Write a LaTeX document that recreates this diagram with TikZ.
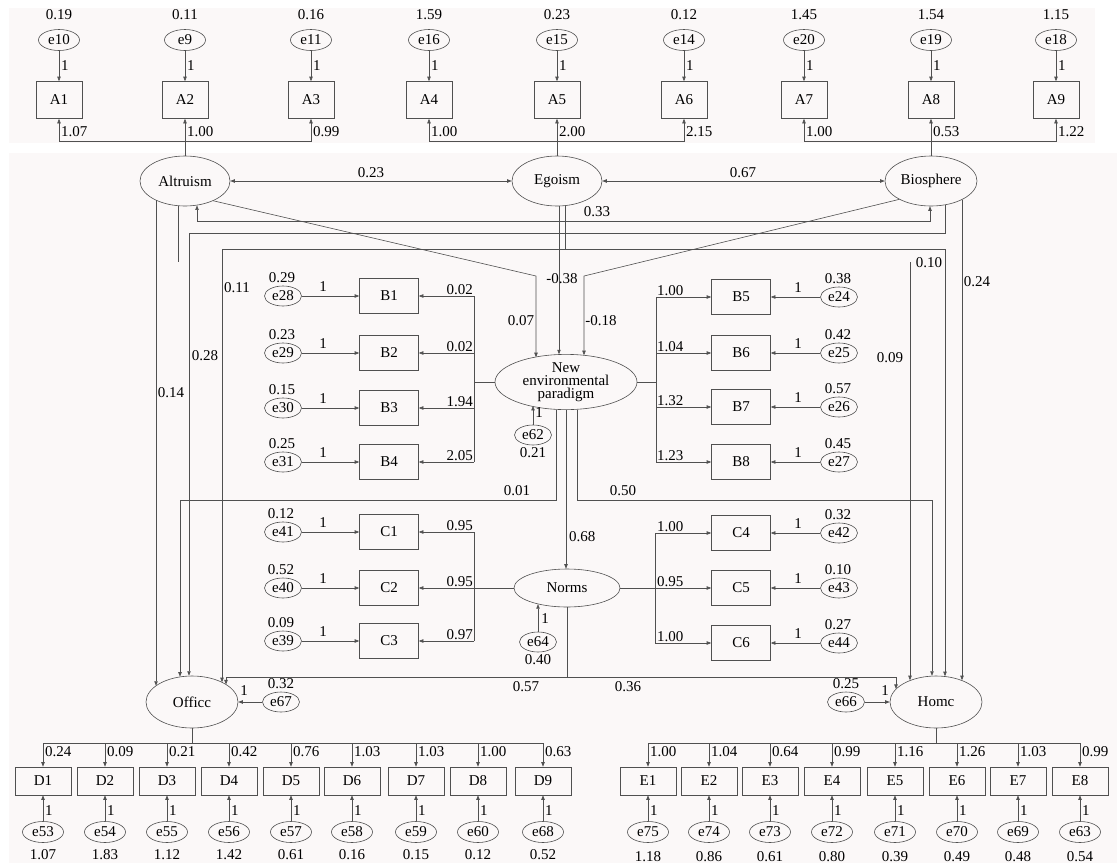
\documentclass[tikz,border=0pt]{standalone}
\usepackage{fontspec}
\setmainfont{Liberation Serif}
\usetikzlibrary{arrows.meta,shapes.geometric}
\definecolor{lc}{HTML}{505050}
\definecolor{bgp}{HTML}{FBF8F8}
\begin{document}
\begin{tikzpicture}[x=1pt,y=-1pt,font=\fontsize{15}{13}\selectfont,
 ln/.style={draw=lc,line width=0.6pt},
 arr/.style={ln,-{Triangle[length=4.5pt,width=3.4pt]}},
 dbl/.style={ln,{Triangle[length=4.5pt,width=3.4pt]}-{Triangle[length=4.5pt,width=3.4pt]}},
 lat/.style={draw=lc,line width=0.6pt,ellipse,inner sep=0pt,minimum width=90pt,minimum height=50pt},
 errT/.style={draw=lc,line width=0.6pt,ellipse,inner sep=0pt,minimum width=41pt,minimum height=21pt},
 errM/.style={draw=lc,line width=0.6pt,ellipse,inner sep=0pt,minimum width=37pt,minimum height=20pt},
 boxA/.style={draw=lc,line width=0.6pt,inner sep=0pt,minimum width=46pt,minimum height=37pt},
 boxB/.style={draw=lc,line width=0.6pt,inner sep=0pt,minimum width=59pt,minimum height=35pt},
 boxD/.style={draw=lc,line width=0.6pt,inner sep=0pt,minimum width=56pt,minimum height=28pt},
 lab/.style={inner sep=0pt}]
\useasboundingbox (0,0) rectangle (1117,863);
\fill[white] (0,0) rectangle (1117,863);
\fill[bgp] (9,8) rectangle (1095,143);
\fill[bgp] (9,153) rectangle (1117,863);

% ---------- latent variables
\node[lat] (Altruism) at (185,181) {Altruism};
\node[lat] (Egoism) at (557,181) {Egoism};
\node[lat,minimum width=92pt] (Biosphere) at (931,181) {Biosphere};
\node[lat,minimum width=142pt,minimum height=49pt,align=center] (NEP) at (566,382) {New\\environmental\\paradigm};
\node[lat,minimum width=106pt,minimum height=38pt] (Norms) at (567,588) {Norms};
\node[lat,minimum width=92pt,minimum height=52pt] (Officc) at (192,702) {Officc};
\node[lat,minimum width=92pt,minimum height=52pt] (Homc) at (936,702) {Homc};

% ---------- top indicators
\foreach \xx/\vv/\ee/\ww [count=\i] in {59/0.19/e10/1.07,185/0.11/e9/1.00,311/0.16/e11/0.99,429/1.59/e16/1.00,557/0.23/e15/2.00,684/0.12/e14/2.15,804/1.45/e20/1.00,931/1.54/e19/0.53,1056/1.15/e18/1.22}{
 \node[boxA] (A\i) at (\xx,100) {A\i};
 \node[errT] (\ee) at (\xx,40) {\ee};
 \node[lab] (vA\i) at (\xx,15) {\vv};
 \node[lab,anchor=west] (oA\i) at (\xx+2,66) {1};
 \node[lab,anchor=west] (wA\i) at (\xx+2,132) {\ww};
 \draw[arr] (\ee) -- (A\i);
}
\draw[arr] (Altruism.north) -- (A2.south);
\draw[arr] (Altruism.north |- 0,141) -| (A1.south);
\draw[arr] (Altruism.north |- 0,141) -| (A3.south);
\draw[arr] (Egoism.north) -- (A5.south);
\draw[arr] (Egoism.north |- 0,141) -| (A4.south);
\draw[arr] (Egoism.north |- 0,141) -| (A6.south);
\draw[arr] (Biosphere.north) -- (A8.south);
\draw[arr] (Biosphere.north |- 0,141) -| (A7.south);
\draw[arr] (Biosphere.north |- 0,141) -| (A9.south);

% ---------- covariances
\draw[dbl] (Altruism.east) -- (Egoism.west);
\draw[dbl] (Egoism.east) -- (Biosphere.west);
\draw[dbl] (197,0 |- Altruism.296) |- (930,221) -- (930,0 |- Biosphere.268);
\node[lab] (c1) at (371,173) {0.23};
\node[lab] (c2) at (743,173) {0.67};
\node[lab] (c3) at (597,212) {0.33};

% ---------- structural paths
% Altruism
\draw[arr] (156,0 |- Altruism.213) -- (156,0 |- Officc.156);
\draw[ln] (178,0 |- Altruism.254) -- (178,262);
\draw[arr] (Altruism.325) -- (536,276) -- (536,0 |- NEP.143);
\draw[arr] (910,262) -- (910,0 |- Homc.140);
% Egoism
\draw[arr] (559,0 |- Egoism.275) -- (559,0 |- NEP.106);
\draw[ln] (565,0 |- Egoism.288) -- (565,249);
\draw[arr] (565,249) -| (222,0 |- Officc.33);
\draw[arr] (565,249) -| (945,0 |- Homc.71);
% Biosphere
\draw[arr] (945,0 |- Biosphere.300) |- (189,233) -- (189,0 |- Officc.97);
\draw[arr] (962,0 |- Biosphere.329) -- (962,0 |- Homc.40);
\draw[arr] (Biosphere.210) -- (584,276) -- (584,0 |- NEP.53);
% NEP
\draw[arr] (NEP.south) -- (NEP.south |- Norms.north);
\draw[arr] (556,0 |- NEP.248) |- (180,500) -- (180,0 |- Officc.116);
\draw[arr] (577,0 |- NEP.294) |- (932,500) -- (932,0 |- Homc.99);
% Norms
\draw[ln] (Norms.south) -- (Norms.south |- 0,677);
\draw[arr] (Norms.south |- 0,677) -| (226,0 |- Officc.27);
\draw[arr] (Norms.south |- 0,677) -| (896,0 |- Homc.162);

\node[lab] (p1) at (171,393) {0.14};
\node[lab] (p2) at (205,356) {0.28};
\node[lab] (p3) at (237,288) {0.11};
\node[lab] (p4) at (521,321) {0.07};
\node[lab] (p5) at (562,279) {-0.38};
\node[lab] (p6) at (601,321) {-0.18};
\node[lab] (p7) at (929,263) {0.10};
\node[lab] (p8) at (977,282) {0.24};
\node[lab] (p9) at (890,358) {0.09};
\node[lab] (p10) at (517,491) {0.01};
\node[lab] (p11) at (623,491) {0.50};
\node[lab,anchor=west] (p12) at (569,537) {0.68};
\node[lab] (p13) at (526,687) {0.57};
\node[lab] (p14) at (628,687) {0.36};

% ---------- NEP indicators
\draw[ln] (NEP.west) -- (474,0 |- NEP.west);
\draw[ln] (474,296) -- (474,462);
\foreach \n/\yy/\ee/\vv/\ww in {1/296/e28/0.29/0.02,2/353/e29/0.23/0.02,3/408/e30/0.15/1.94,4/462/e31/0.25/2.05}{
 \node[boxB] (B\n) at (389,\yy) {B\n};
 \node[errM] (\ee) at (283,\yy) {\ee};
 \node[lab] (vB\n) at (282,\yy-18) {\vv};
 \node[lab] (oB\n) at (323,\yy-9) {1};
 \node[lab,anchor=south east] (wB\n) at (473,\yy-1) {\ww};
 \draw[arr] (\ee) -- (B\n);
 \draw[arr] (474,0 |- B\n.east) -- (B\n.east);
}
\draw[ln] (NEP.east) -- (656,0 |- NEP.east);
\draw[ln] (656,297) -- (656,462);
\foreach \n/\yy/\ee/\vv/\ww in {5/297/e24/0.38/1.00,6/353/e25/0.42/1.04,7/407/e26/0.57/1.32,8/462/e27/0.45/1.23}{
 \node[boxB] (B\n) at (741,\yy) {B\n};
 \node[errM] (\ee) at (839,\yy) {\ee};
 \node[lab] (vB\n) at (838,\yy-18) {\vv};
 \node[lab] (oB\n) at (798,\yy-9) {1};
 \node[lab,anchor=south west] (wB\n) at (657,\yy-1) {\ww};
 \draw[arr] (\ee) -- (B\n);
 \draw[arr] (656,0 |- B\n.west) -- (B\n.west);
}
\node[errM] (e62) at (533,435) {e62};
\node[lab] (o62) at (539,413) {1};
\node[lab] (v62) at (533,453) {0.21};
\draw[arr] (e62.north) -- (e62.north |- NEP.213);

% ---------- Norms indicators
\draw[ln] (Norms.west) -- (474,0 |- Norms.west);
\draw[ln] (474,532) -- (474,641);
\foreach \n/\yy/\ee/\vv/\ww in {1/532/e41/0.12/0.95,2/588/e40/0.52/0.95,3/641/e39/0.09/0.97}{
 \node[boxB] (C\n) at (389,\yy) {C\n};
 \node[errM] (\ee) at (283,\yy) {\ee};
 \node[lab] (vC\n) at (281,\yy-18) {\vv};
 \node[lab] (oC\n) at (323,\yy-9) {1};
 \node[lab,anchor=south east] (wC\n) at (473,\yy-1) {\ww};
 \draw[arr] (\ee) -- (C\n);
 \draw[arr] (474,0 |- C\n.east) -- (C\n.east);
}
\draw[ln] (Norms.east) -- (655,0 |- Norms.east);
\draw[ln] (655,533) -- (655,643);
\foreach \n/\yy/\ee/\vv/\ww in {4/533/e42/0.32/1.00,5/588/e43/0.10/0.95,6/643/e44/0.27/1.00}{
 \node[boxB] (C\n) at (741,\yy) {C\n};
 \node[errM] (\ee) at (839,\yy) {\ee};
 \node[lab] (vC\n) at (838,\yy-18) {\vv};
 \node[lab] (oC\n) at (798,\yy-9) {1};
 \node[lab,anchor=south west] (wC\n) at (657,\yy-1) {\ww};
 \draw[arr] (\ee) -- (C\n);
 \draw[arr] (655,0 |- C\n.west) -- (C\n.west);
}
\node[errM] (e64) at (538,642) {e64};
\node[lab] (o64) at (545,619) {1};
\node[lab] (v64) at (538,660) {0.40};
\draw[arr] (e64.north) -- (e64.north |- Norms.209);

% ---------- disturbances
\node[errM] (e67) at (281,702) {e67};
\node[lab] (v67) at (281,684) {0.32};
\node[lab] (o67) at (244,691) {1};
\draw[arr] (e67) -- (Officc.east);
\node[errM] (e66) at (846,702) {e66};
\node[lab] (v66) at (846,684) {0.25};
\node[lab] (o66) at (885,691) {1};
\draw[arr] (e66) -- (Homc.west);

% ---------- D indicators
\draw[ln] (Officc.south) -- (Officc.south |- 0,743);
\draw[ln] (43,743) -- (543,743);
\foreach \xx/\ww/\ee/\vv [count=\i] in {43/0.24/e53/1.07,105/0.09/e54/1.83,167/0.21/e55/1.12,229/0.42/e56/1.42,291/0.76/e57/0.61,352/1.03/e58/0.16,416/1.03/e59/0.15,478/1.00/e60/0.12,543/0.63/e68/0.52}{
 \node[boxD] (D\i) at (\xx,781) {D\i};
 \node[errT] (\ee) at (\xx,832) {\ee};
 \node[lab] (vD\i) at (\xx,855) {\vv};
 \node[lab,anchor=west] (oD\i) at (\xx+2,811) {1};
 \node[lab,anchor=west] (wD\i) at (\xx+2,752) {\ww};
 \draw[arr] (D\i.north |- 0,743) -- (D\i.north);
 \draw[arr] (\ee) -- (D\i);
}

% ---------- E indicators
\draw[ln] (Homc.south) -- (Homc.south |- 0,743);
\draw[ln] (648,743) -- (1080,743);
\foreach \xx/\ww/\ee/\vv [count=\i] in {648/1.00/e75/1.18,709/1.04/e74/0.86,770/0.64/e73/0.61,832/0.99/e72/0.80,895/1.16/e71/0.39,957/1.26/e70/0.49,1018/1.03/e69/0.48,1080/0.99/e63/0.54}{
 \node[boxD] (E\i) at (\xx,781) {E\i};
 \node[errT] (\ee) at (\xx,832) {\ee};
 \node[lab] (vE\i) at (\xx,857) {\vv};
 \node[lab,anchor=west] (oE\i) at (\xx+2,811) {1};
 \node[lab,anchor=west] (wE\i) at (\xx+2,752) {\ww};
 \draw[arr] (E\i.north |- 0,743) -- (E\i.north);
 \draw[arr] (\ee) -- (E\i);
}
\end{tikzpicture}
\end{document}
